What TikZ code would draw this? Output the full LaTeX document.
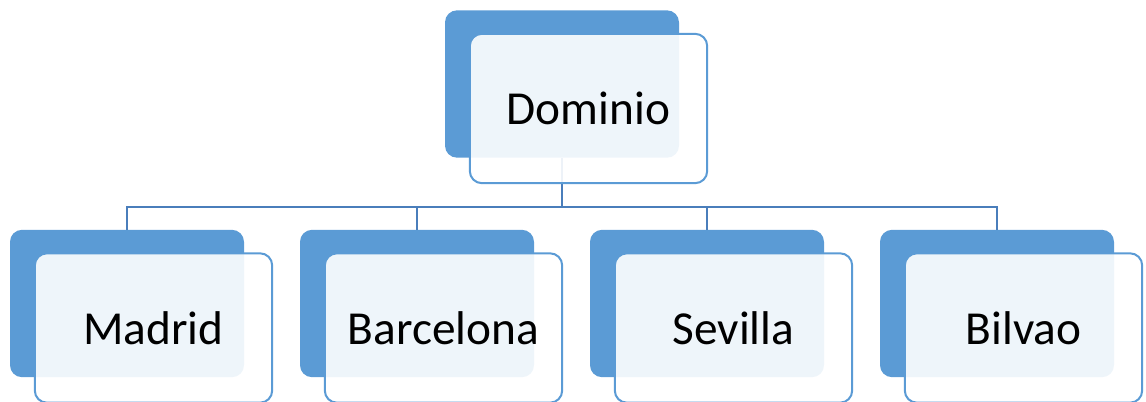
\documentclass[tikz,border=0pt]{standalone}
\usepackage{fontspec}
\setmainfont{Carlito}
\definecolor{accent}{HTML}{5B9BD5}
\definecolor{linkc}{HTML}{4A7EBB}
\begin{document}
\begin{tikzpicture}[x=0.75pt,y=-0.75pt,
  backbox/.style={fill=accent,draw=none,rounded corners=9pt,inner sep=0pt,minimum width=175.5pt,minimum height=110.5pt},
  frontbox/.style={fill=white,fill opacity=0.9,text opacity=1,draw=accent,draw opacity=1,line width=1.5pt,rounded corners=9pt,inner sep=0pt,minimum width=178pt,minimum height=112pt,font=\fontsize{35.5pt}{40pt}\selectfont},
  link/.style={draw=linkc,line width=1.7pt}]
\useasboundingbox (0,0) rectangle (1146,401);
% back boxes
\node[backbox] (domb) at (562,84) {};
\node[backbox] (madb) at (127,303.5) {};
\node[backbox] (barb) at (417,303.5) {};
\node[backbox] (sevb) at (707,303.5) {};
\node[backbox] (bilb) at (997,303.5) {};
% connectors
\coordinate (bus) at (562,207);
\draw[link] (domb.south) -- (bus) -| (madb.north);
\draw[link] (bus) -| (barb.north);
\draw[link] (bus) -| (sevb.north);
\draw[link] (bus) -| (bilb.north);
% front boxes
\node[frontbox] (domf) at (588.5,108.5) {Dominio};
\node[frontbox] (madf) at (153.5,328) {Madrid};
\node[frontbox] (barf) at (443.5,328) {Barcelona};
\node[frontbox] (sevf) at (733.5,328) {Sevilla};
\node[frontbox] (bilf) at (1023.5,328) {Bilvao};
\end{tikzpicture}
\end{document}
